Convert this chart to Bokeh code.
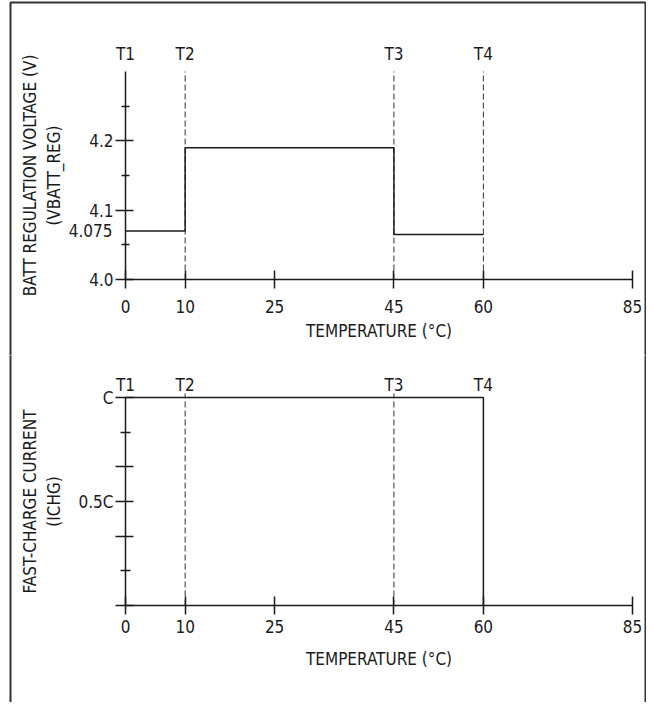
from bokeh.plotting import figure
from bokeh.models import Range1d, FixedTicker, BoxAnnotation
from bokeh.core.properties import value
from bokeh.layouts import column
from bokeh.embed import file_html
from bokeh.resources import INLINE

FONT = "DejaVu Sans Condensed"
FS = "17px"
INK = "#1a1a1a"

# ---- data ----
temp_ticks = [0, 10, 25, 45, 60, 85]
t_names = ["T1", "T2", "T3", "T4"]
t_temps = [0, 10, 45, 60]

vreg_temps = [0, 10, 45, 60]
vreg_values = [4.07, 4.19, 4.065, 4.065]
vreg_axis = (4.0, 4.3)
vreg_ticks = [4.0, 4.1, 4.2]
vreg_tick_labels = ["4.0", "4.1", "4.2"]
vreg_minor = [4.05, 4.15, 4.25]
vreg_note_value = 4.07
vreg_note_text = "4.075"
vreg_dashed_temps = [10, 45, 60]

ichg_temps = [0, 60]
ichg_values = [1.0, 0.0]
ichg_axis = (0.0, 1.0)
ichg_ticks = [0.0, 1 / 3, 0.5, 2 / 3, 1.0]
ichg_tick_labels = ["", "", "0.5C", "", "C"]
ichg_minor = [1 / 6, 5 / 6]
ichg_dashed_temps = [10, 45]

temp_axis = (0, 85)

# ---- layout (pixels inside each canvas) ----
W = 646
H1, H2 = 355, 347
X0_PX, X85_PX = 125, 632           # where 0 and 85 degC fall
P1_BOTTOM_PX, P1_TOP_PX = 279, 71  # 4.0 V and 4.3 V
P2_BOTTOM_PX, P2_TOP_PX = 250, 42  # 0 and C
FRAME_LEFT, FRAME_TOP, FRAME_RIGHT = 10, 2, W - 1


def x_range():
    k = (temp_axis[1] - temp_axis[0]) / (X85_PX - X0_PX)
    return Range1d(temp_axis[0] - X0_PX * k, temp_axis[0] + (W - X0_PX) * k)


def y_range(lo, hi, lo_px, hi_px, h):
    k = (hi - lo) / (lo_px - hi_px)
    return Range1d(lo - (h - lo_px) * k, lo + lo_px * k)


def make_fig(h, yr):
    p = figure(width=W, height=h, x_range=x_range(), y_range=yr,
               output_backend="svg", toolbar_location=None, title_location=None,
               min_border=0)
    p.xgrid.grid_line_color = None
    p.ygrid.grid_line_color = None
    p.outline_line_color = None
    p.background_fill_color = "white"
    p.border_fill_color = "white"
    for ax in (p.xaxis[0], p.yaxis[0]):
        ax.axis_line_color = INK
        ax.axis_line_width = 1.5
        ax.major_tick_line_color = INK
        ax.major_tick_line_width = 1.5
        ax.minor_tick_line_color = INK
        ax.minor_tick_line_width = 1.5
        ax.major_label_text_font = FONT
        ax.major_label_text_font_size = FS
        ax.major_label_text_color = INK
        ax.axis_label_text_font = FONT
        ax.axis_label_text_font_size = FS
        ax.axis_label_text_font_style = "normal"
        ax.axis_label_text_color = INK
    xa = p.xaxis[0]
    xa.ticker = FixedTicker(ticks=temp_ticks, minor_ticks=[])
    xa.bounds = temp_axis
    xa.major_tick_in = 9
    xa.major_tick_out = 9
    ya = p.yaxis[0]
    ya.fixed_location = temp_axis[0]
    ya.major_tick_in = 8
    ya.major_tick_out = 10
    ya.minor_tick_in = 4
    ya.minor_tick_out = 4
    ya.major_label_standoff = 2
    return p


def frame_box(top, bottom):
    return BoxAnnotation(left=FRAME_LEFT, right=FRAME_RIGHT, top=top, bottom=bottom,
                         left_units="canvas", right_units="canvas",
                         top_units="canvas", bottom_units="canvas",
                         fill_color=None, line_color="#333333", line_alpha=1.0,
                         line_width=2)


# ---- top panel ----
p1 = make_fig(H1, y_range(vreg_axis[0], vreg_axis[1], P1_BOTTOM_PX, P1_TOP_PX, H1))
xa = p1.xaxis[0]
xa.fixed_location = vreg_axis[0]
xa.axis_label = "TEMPERATURE (°C)"
xa.major_label_standoff = 11
xa.axis_label_standoff = 5
ya = p1.yaxis[0]
ya.bounds = vreg_axis
ya.ticker = FixedTicker(ticks=vreg_ticks, minor_ticks=vreg_minor)
ya.major_label_overrides = dict(zip(vreg_ticks, vreg_tick_labels))
ya.axis_label = "BATT REGULATION VOLTAGE (V)\n(VBATT_REG)"
ya.axis_label_standoff = 22

n = len(vreg_dashed_temps)
p1.segment(x0=vreg_dashed_temps, x1=vreg_dashed_temps,
           y0=[vreg_axis[0]] * n, y1=[vreg_axis[1]] * n,
           line_color="#333333", line_width=1, line_dash="6 3")
p1.step(x=vreg_temps, y=vreg_values, mode="after", line_color=INK, line_width=1.5)
p1.text(x=[temp_axis[0]], y=[vreg_note_value], text=[vreg_note_text], x_offset=-13,
        text_align="right", text_baseline="middle",
        text_font=value(FONT), text_font_size=FS, text_color=INK)
p1.text(x=t_temps, y=[vreg_axis[1]] * len(t_temps), text=t_names, y_offset=-18,
        text_align="center", text_baseline="middle",
        text_font=value(FONT), text_font_size=FS, text_color=INK)
p1.add_layout(frame_box(FRAME_TOP, H1 + 20))

# ---- bottom panel ----
p2 = make_fig(H2, y_range(ichg_axis[0], ichg_axis[1], P2_BOTTOM_PX, P2_TOP_PX, H2))
xa = p2.xaxis[0]
xa.fixed_location = ichg_axis[0]
xa.axis_label = "TEMPERATURE (°C)"
xa.major_label_standoff = 5
xa.axis_label_standoff = 13
ya = p2.yaxis[0]
ya.bounds = ichg_axis
ya.ticker = FixedTicker(ticks=ichg_ticks, minor_ticks=ichg_minor)
ya.major_label_overrides = dict(zip(ichg_ticks, ichg_tick_labels))
ya.minor_tick_in = 5
ya.minor_tick_out = 5
ya.axis_label = "FAST-CHARGE CURRENT\n(ICHG)"
ya.axis_label_standoff = 12

m = len(ichg_dashed_temps)
p2.segment(x0=ichg_dashed_temps, x1=ichg_dashed_temps,
           y0=[ichg_axis[0]] * m, y1=[ichg_axis[1] * 1.02] * m,
           line_color="#333333", line_width=1, line_dash="6 3")
p2.step(x=ichg_temps, y=ichg_values, mode="after", line_color=INK, line_width=1.5)
p2.text(x=t_temps, y=[ichg_axis[1]] * len(t_temps), text=t_names, y_offset=-13,
        text_align="center", text_baseline="middle",
        text_font=value(FONT), text_font_size=FS, text_color=INK)
p2.add_layout(frame_box(-20, H2 + 20))

layout = column(p1, p2, spacing=0)

open("out.html", "w").write(file_html(layout, INLINE))
